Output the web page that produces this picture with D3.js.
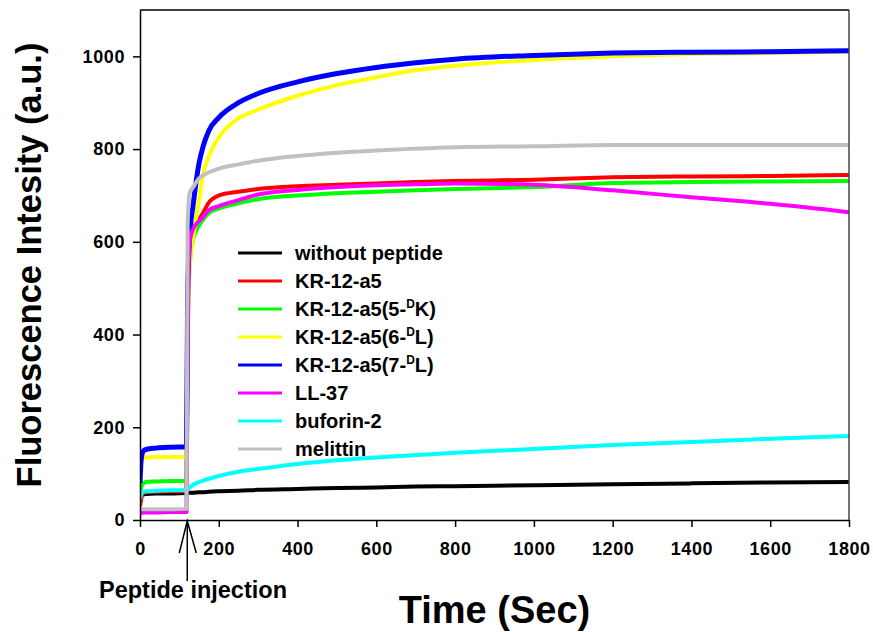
<!DOCTYPE html>
<html>
<head>
<meta charset="utf-8">
<script src="https://cdn.jsdelivr.net/npm/d3@7"></script>
<style>
  body { margin: 0; background: #fff; }
  svg { display: block; font-family: Arial, "Liberation Sans", sans-serif; font-weight: bold; }
</style>
</head>
<body>
<div id="chart"></div>
<script>
// sample times (s), shared by every trace
const times = [0, 3, 8, 15, 40, 80, 118, 121, 126, 135, 150, 160, 175, 200, 250, 300, 400, 500, 600, 700, 800, 1000, 1200, 1400, 1600, 1800];

// fluorescence (a.u.)
const withoutPeptide = [50, 53, 55, 56, 57, 57, 58, 58, 59, 59, 60, 60, 61, 62, 63, 65, 67, 69, 70, 72, 73, 75, 77, 79, 81, 82];
const kr12a5 = [30, 45, 58, 60, 61, 62, 62, 520, 600, 625, 648, 662, 685, 700, 708, 714, 720, 723, 726, 729, 731, 734, 739, 741, 742, 744];
const kr12a5_5DK = [55, 70, 78, 82, 83, 84, 84, 380, 550, 605, 635, 648, 662, 672, 683, 692, 700, 705, 708, 711, 714, 718, 727, 729, 730, 731];
const kr12a5_6DL = [110, 128, 133, 135, 136, 136, 136, 380, 540, 610, 690, 745, 785, 825, 866, 885, 915, 938, 955, 970, 980, 992, 1000, 1005, 1007, 1010];
const kr12a5_7DL = [80, 130, 148, 152, 155, 157, 158, 480, 610, 680, 770, 805, 840, 868, 900, 920, 945, 963, 976, 986, 994, 1002, 1007, 1009, 1010, 1012];
const ll37 = [14, 15, 16, 16, 16, 17, 17, 420, 600, 628, 645, 654, 668, 677, 690, 702, 712, 718, 722, 724, 726, 723, 711, 696, 682, 664];
const buforin2 = [45, 55, 60, 62, 63, 64, 64, 66, 70, 76, 82, 85, 89, 95, 104, 110, 121, 129, 135, 140, 145, 153, 162, 168, 175, 181];
const melittin = [25, 24, 23, 23, 23, 23, 24, 640, 705, 718, 737, 743, 750, 758, 767, 775, 785, 792, 797, 801, 804, 806, 809, 809, 809, 809];

const seriesValues = [withoutPeptide, kr12a5, kr12a5_5DK, kr12a5_6DL, kr12a5_7DL, ll37, buforin2, melittin];
// "^D" marks a superscript D
const seriesNames = ['without peptide', 'KR-12-a5', 'KR-12-a5(5-^DK)', 'KR-12-a5(6-^DL)', 'KR-12-a5(7-^DL)', 'LL-37', 'buforin-2', 'melittin'];
const seriesColors = ['#000000', '#ff0000', '#00ff00', '#ffff00', '#0000ff', '#ff00ff', '#00ffff', '#c0c0c0'];

const xTicks = [0, 200, 400, 600, 800, 1000, 1200, 1400, 1600, 1800];
const yTicks = [0, 200, 400, 600, 800, 1000];
const injectionTime = 120;

(function () {
  const width = 873; const height = 632;
  const plot = { left: 140, right: 849, top: 10, bottom: 520 };

  const svg = d3.select('#chart').append('svg')
    .attr('width', width).attr('height', height)
    .attr('viewBox', `0 0 ${width} ${height}`);

  svg.append('rect').attr('width', width).attr('height', height).attr('fill', '#fff');

  const x = d3.scaleLinear().domain([0, 1800]).range([plot.left, plot.right]);
  const y = d3.scaleLinear().domain([0, 1100]).range([plot.bottom, plot.top]);

  svg.append('clipPath').attr('id', 'clip')
    .append('rect')
    .attr('x', plot.left).attr('y', plot.top)
    .attr('width', plot.right - plot.left).attr('height', plot.bottom - plot.top);

  // traces
  const line = d3.line()
    .x((d) => x(d[0]))
    .y((d) => y(d[1]))
    .curve(d3.curveMonotoneX);

  const traces = svg.append('g').attr('clip-path', 'url(#clip)');
  seriesValues.forEach((vals, i) => {
    traces.append('path')
      .attr('d', line(vals.map((v, k) => [times[k], v])))
      .attr('fill', 'none')
      .attr('stroke', seriesColors[i])
      .attr('stroke-width', i === 4 ? 5 : 4)
      .attr('stroke-linejoin', 'round');
  });

  // frame
  svg.append('line').attr('x1', plot.left).attr('x2', plot.right)
    .attr('y1', plot.top).attr('y2', plot.top)
    .attr('stroke', '#000').attr('stroke-width', 1.5);
  svg.append('line').attr('x1', plot.right).attr('x2', plot.right)
    .attr('y1', plot.top).attr('y2', plot.bottom)
    .attr('stroke', '#444').attr('stroke-width', 1.5);

  // axes
  const fmt = d3.format('d');
  const xAxis = svg.append('g')
    .attr('transform', `translate(0,${plot.bottom})`)
    .call(d3.axisBottom(x).tickValues(xTicks).tickFormat(fmt).tickSize(7).tickSizeOuter(0).tickPadding(15));
  const yAxis = svg.append('g')
    .attr('transform', `translate(${plot.left},0)`)
    .call(d3.axisLeft(y).tickValues(yTicks).tickFormat(fmt).tickSize(7).tickSizeOuter(0).tickPadding(8));

  [xAxis, yAxis].forEach((ax) => {
    ax.attr('font-family', null).attr('font-size', null);
    ax.select('.domain').attr('stroke', '#000').attr('stroke-width', 1.5);
    ax.selectAll('.tick line').attr('stroke', '#000').attr('stroke-width', 1.5);
    ax.selectAll('.tick text')
      .attr('fill', '#000')
      .attr('font-size', 18)
      .attr('letter-spacing', 0.6);
  });

  // axis titles
  svg.append('text')
    .attr('x', (plot.left + plot.right) / 2).attr('y', 623)
    .attr('text-anchor', 'middle')
    .attr('font-size', 38)
    .text('Time (Sec)');

  svg.append('text')
    .attr('transform', `translate(41,${(plot.top + plot.bottom) / 2}) rotate(-90)`)
    .attr('text-anchor', 'middle')
    .attr('font-size', 34.5)
    .text('Fluorescence Intesity (a.u.)');

  // injection arrow
  const ax0 = x(injectionTime);
  const arrow = svg.append('g').attr('stroke', '#000').attr('stroke-width', 1.5).attr('fill', 'none');
  arrow.append('line').attr('x1', ax0).attr('x2', ax0).attr('y1', plot.bottom + 1).attr('y2', 581);
  arrow.append('path')
    .attr('d', `M${ax0 - 8},553 L${ax0},${plot.bottom + 1} L${ax0 + 9},553`);

  svg.append('text')
    .attr('x', 193).attr('y', 598)
    .attr('text-anchor', 'middle')
    .attr('font-size', 23.5)
    .text('Peptide injection');

  // legend
  const legend = svg.append('g');
  seriesNames.forEach((name, i) => {
    const ry = 253 + i * 28;
    legend.append('line')
      .attr('x1', 238).attr('x2', 282).attr('y1', ry).attr('y2', ry)
      .attr('stroke', seriesColors[i]).attr('stroke-width', 3);
    const t = legend.append('text')
      .attr('x', 295).attr('y', ry + 7)
      .attr('font-size', 20);
    name.split(/(\^D)/).forEach((part) => {
      if (!part) return;
      if (part === '^D') {
        t.append('tspan').attr('font-size', 12).attr('dy', -8).text('D');
      } else {
        const span = t.append('tspan').text(part);
        if (t.node().childNodes.length > 1) span.attr('dy', 8);
      }
    });
  });
})();
</script>
</body>
</html>
